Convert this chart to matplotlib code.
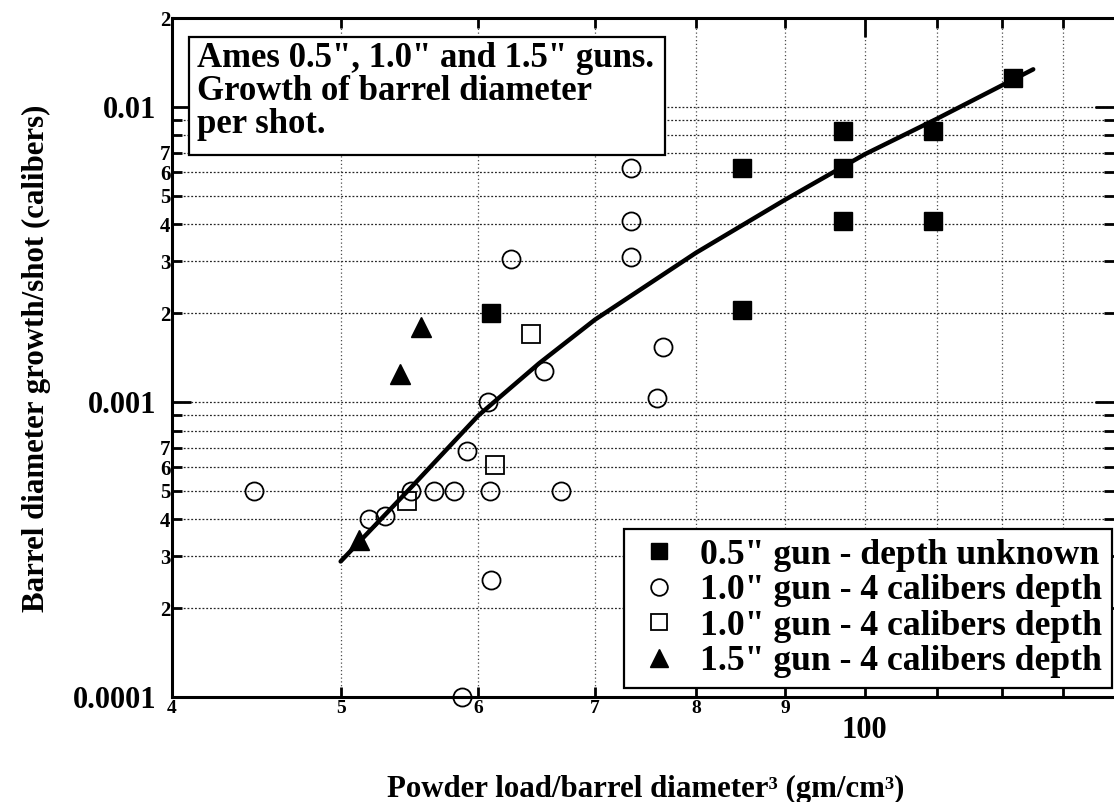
import matplotlib
matplotlib.use('Agg')
import matplotlib.pyplot as plt
from matplotlib.ticker import FixedLocator, FixedFormatter
from matplotlib.lines import Line2D
from matplotlib.patches import Rectangle

plt.rcParams['font.family'] = ['Liberation Serif', 'DejaVu Serif']
plt.rcParams['font.weight'] = 'bold'

# ---- data ----
sq_x = [61.0, 85.0, 85.0, 97.2, 97.2, 97.2, 109.5, 109.5, 121.7]
sq_y = [0.0020, 0.0062, 0.00205, 0.0083, 0.0062, 0.0041, 0.0083, 0.0041, 0.0125]

circ_x = [44.6, 51.9, 53.0, 54.9, 56.6, 58.1, 60.9, 66.9, 59.1, 60.8, 65.4,
          62.6, 73.4, 73.4, 73.4, 76.6, 76.0, 61.0, 58.7]
circ_y = [0.0005, 0.00040, 0.00041, 0.0005, 0.0005, 0.0005, 0.0005, 0.0005,
          0.00068, 0.0010, 0.00127, 0.00306, 0.0062, 0.0041, 0.0031, 0.00153,
          0.00103, 0.00025, 0.0001]

osq_x = [54.6, 61.3, 64.3]
osq_y = [0.00046, 0.00061, 0.0017]

tri_x = [51.2, 54.1, 55.6]
tri_y = [0.00034, 0.00124, 0.00179]

fit_x = [50, 55, 60, 65, 70, 80, 90, 100, 110, 125]
fit_y = [0.000288, 0.00052, 0.0009, 0.00135, 0.0019, 0.0032, 0.00484,
         0.0069, 0.0091, 0.0134]

labels = ['0.5" gun - depth unknown', '1.0" gun - 4 calibers depth',
          '1.0" gun - 4 calibers depth', '1.5" gun - 4 calibers depth']

x_major = [100]
x_major_labels = ['100']
x_minor = [40, 50, 60, 70, 80, 90, 110, 120, 130]
x_minor_labels = ['4', '5', '6', '7', '8', '9', '', '', '']
y_major = [1e-4, 1e-3, 1e-2]
y_major_labels = ['0.0001', '0.001', '0.01']
y_minor = [2e-4, 3e-4, 4e-4, 5e-4, 6e-4, 7e-4, 8e-4, 9e-4,
           2e-3, 3e-3, 4e-3, 5e-3, 6e-3, 7e-3, 8e-3, 9e-3, 2e-2]
y_minor_labels = ['2', '3', '4', '5', '6', '7', '', '',
                  '2', '3', '4', '5', '6', '7', '', '', '2']

title_text = 'Ames 0.5", 1.0" and 1.5" guns.\nGrowth of barrel diameter\nper shot.'

W, H = 1114, 802
fig = plt.figure(figsize=(W / 100, H / 100), dpi=100)
L, R, T, B = 172, 1114, 18, 697
ax = fig.add_axes([L / W, 1 - B / H, (R - L) / W, (B - T) / H])
ax.set_xscale('log')
ax.set_yscale('log')
ax.set_xlim(40, 139.1)
ax.set_ylim(1e-4, 2e-2)

ax.xaxis.set_major_locator(FixedLocator(x_major))
ax.xaxis.set_major_formatter(FixedFormatter(x_major_labels))
ax.xaxis.set_minor_locator(FixedLocator(x_minor))
ax.xaxis.set_minor_formatter(FixedFormatter(x_minor_labels))
ax.yaxis.set_major_locator(FixedLocator(y_major))
ax.yaxis.set_major_formatter(FixedFormatter(y_major_labels))
ax.yaxis.set_minor_locator(FixedLocator(y_minor))
ax.yaxis.set_minor_formatter(FixedFormatter(y_minor_labels))

ax.tick_params(which='both', direction='in', top=True, right=True,
               width=2, color='black')
ax.tick_params(which='major', length=14)
ax.tick_params(which='minor', length=7)
ax.tick_params(axis='y', which='major', labelsize=22, pad=11)
ax.tick_params(axis='y', which='minor', labelsize=15, pad=1)
ax.tick_params(axis='x', which='major', labelsize=22, pad=14)
ax.tick_params(axis='x', which='minor', labelsize=14, pad=2)

for s in ['left', 'bottom', 'top']:
    ax.spines[s].set_linewidth(2.2)
ax.spines['right'].set_visible(False)

ax.yaxis.grid(True, which='both', linestyle=(0, (1.5, 1.5)), linewidth=0.9,
              color='0.15')
ax.xaxis.grid(True, which='both', linestyle=(0, (1, 2)), linewidth=0.9,
              color='0.3')
ax.set_axisbelow(True)

ax.plot(sq_x, sq_y, linestyle='none', marker='s', markersize=13.5,
        color='black', zorder=3)
ax.plot(circ_x, circ_y, linestyle='none', marker='o', markersize=13,
        markerfacecolor='none', markeredgecolor='black', markeredgewidth=1.3,
        zorder=3, clip_on=False)
ax.plot(osq_x, osq_y, linestyle='none', marker='s', markersize=13,
        markerfacecolor='none', markeredgecolor='black', markeredgewidth=1.3,
        zorder=3)
ax.plot(tri_x, tri_y, linestyle='none', marker='^', markersize=14,
        color='black', zorder=3)
ax.plot(fit_x, fit_y, color='black', linewidth=3.2, zorder=4,
        solid_capstyle='round')

handles = [
    Line2D([], [], linestyle='none', marker='s', markersize=12, color='black'),
    Line2D([], [], linestyle='none', marker='o', markersize=12,
           markerfacecolor='none', markeredgecolor='black', markeredgewidth=1.3),
    Line2D([], [], linestyle='none', marker='s', markersize=12,
           markerfacecolor='none', markeredgecolor='black', markeredgewidth=1.3),
    Line2D([], [], linestyle='none', marker='^', markersize=13, color='black'),
]
leg = ax.legend(handles, labels, loc='lower right',
                bbox_to_anchor=((1112 - L) / (R - L), (B - 688) / (B - T)),
                borderaxespad=0, prop={'weight': 'bold', 'size': 25.7},
                frameon=True, fancybox=False, handlelength=1.44,
                handletextpad=0.44, borderpad=0.27, labelspacing=0.07)
leg.get_frame().set_edgecolor('black')
leg.get_frame().set_linewidth(1.6)
leg.get_frame().set_alpha(1)
leg.set_zorder(6)

# title box
fig.patches.append(Rectangle((189 / W, 1 - 155 / H), (665 - 189) / W, (155 - 37) / H,
                             transform=fig.transFigure, facecolor='white',
                             edgecolor='black', linewidth=1.6, zorder=5))
fig.text(197 / W, 1 - 42 / H, title_text, fontsize=25, fontweight='bold',
         ha='left', va='top', linespacing=1.0, zorder=6)

fig.text(36 / W, 1 - 358 / H, 'Barrel diameter growth/shot (calibers)',
         rotation=90, ha='center', va='center', fontsize=22.2, fontweight='bold')
fig.text(646 / W, 1 - 797 / H, 'Powder load/barrel diameter³ (gm/cm³)',
         ha='center', va='baseline', fontsize=22.2, fontweight='bold')

fig.savefig('out.png', dpi=100)
